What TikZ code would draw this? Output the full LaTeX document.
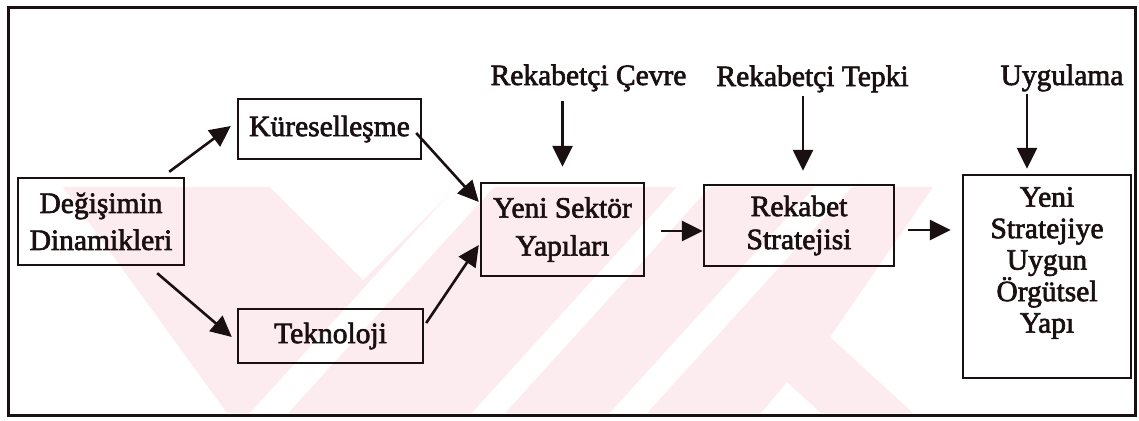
\documentclass[tikz,border=0pt]{standalone}
\usepackage{fontspec}
\setmainfont{Liberation Serif}[FakeBold=2.2]
\usetikzlibrary{arrows.meta,calc}
\definecolor{ink}{RGB}{26,16,18}
\definecolor{wmpink}{RGB}{253,236,239}
\tikzset{
  box/.style={draw=ink, line width=2.4pt, inner sep=0pt},
  txt/.style={text=ink, align=center, font=\fontsize{29.5}{37}\selectfont},
  arr/.style={draw=ink, line width=2.6pt, -{Triangle[length=21pt,width=20pt]}},
}
\begin{document}
\begin{tikzpicture}[x=1pt,y=-1pt]
\useasboundingbox (0,0) rectangle (1139,420);
\fill[white] (0,0) rectangle (1139,420);

% faint background emblem
\fill[wmpink] (63,187) -- (933,187) -- (830,337) -- (913,413) -- (821,413)
  -- (787,382) -- (761,413) -- (227,413) -- cycle;
\fill[white] (270,187) -- (363,280) -- (456,187) -- cycle;
\fill[white] (250,413) -- (288,413) -- (494,187) -- (456,187) -- cycle;
\fill[white] (472,413) -- (505,413) -- (710,187) -- (677,187) -- cycle;
\fill[white] (610,413) -- (647,413) -- (852,187) -- (815,187) -- cycle;

% outer frame
\draw[ink, line width=3pt] (8,8) rectangle (1135,415);

% boxes
\node[box, txt, minimum width=166, minimum height=87] (dyn) at (101,221.5) {Değişimin\\Dinamikleri};
\node[box, txt, minimum width=183, minimum height=60] (kur) at (329.5,129) {Küreselleşme};
\node[box, txt, minimum width=185, minimum height=54] (tek) at (330.5,336) {Teknoloji};
\node[box, txt, minimum width=163, minimum height=93, font=\fontsize{29.5}{38}\selectfont] (ysy) at (562.5,229.5) {Yeni Sektör\\Yapıları};
\node[box, txt, minimum width=190, minimum height=81, font=\fontsize{29.5}{33}\selectfont] (rek) at (799,225.5) {Rekabet\\Stratejisi};
\node[box, minimum width=168, minimum height=203] (org) at (1047,276.5) {};
\node[txt, font=\fontsize{29.5}{31.5}\selectfont] (orgtext) at (1047,263) {Yeni\\Stratejiye\\Uygun\\Örgütsel\\Yapı};

% influences from above
\node[txt, anchor=base] (cevre) at (588.5,85) {Rekabetçi Çevre};
\node[txt, anchor=base] (tepki) at (812.5,86) {Rekabetçi Tepki};
\node[txt, anchor=base] (uyg) at (1062,85) {Uygulama};

% connectors
\draw[arr] ($(dyn.north east)+(-16,-5)$) -- ($(kur.west)+(-6,-3)$);
\draw[arr] ($(dyn.south east)+(-28,7)$) -- ($(tek.west)+(-5,1)$);
\draw[arr] ($(kur.east)+(-6,4)$) -- ($(ysy.west)+(-1,-27.5)$);
\draw[arr] ($(tek.east)+(2,-13)$) -- ($(ysy.west)+(-1,15.5)$);
\draw[arr] ($(ysy.east)+(16,1.5)$) -- ($(rek.west)+(0,5.5)$);
\draw[arr] ($(rek.east)+(13,4.5)$) -- ($(org.west)+(-11,-46.5)$);
\draw[arr] ($(ysy.north)+(0,-81)$) -- ($(ysy.north)+(0,-15)$);
\draw[arr] ($(rek.north)+(4,-88)$) -- ($(rek.north)+(4,-13)$);
\draw[arr] ($(org.north)+(-20,-80)$) -- ($(org.north)+(-20,-5)$);
\end{tikzpicture}
\end{document}
